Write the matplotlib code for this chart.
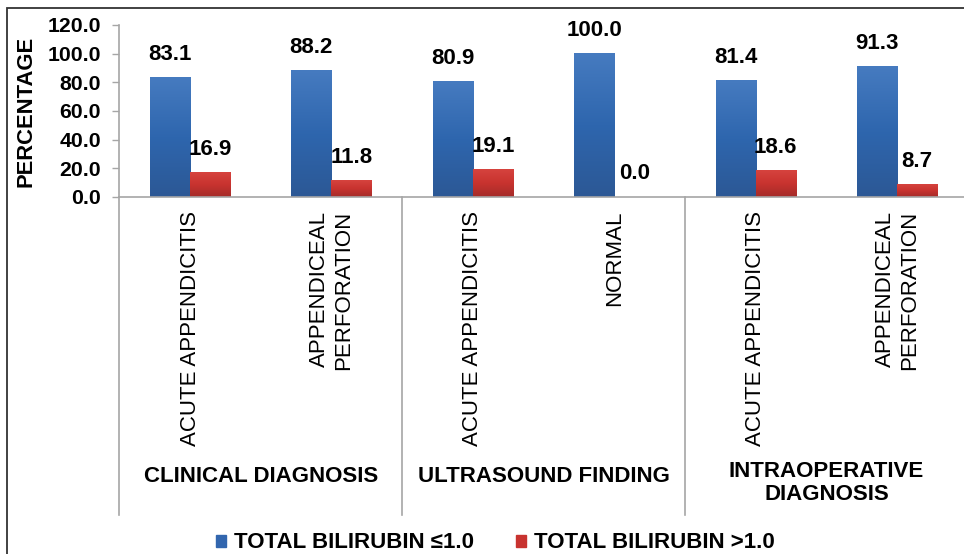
import numpy as np
import matplotlib
matplotlib.use('Agg')
import matplotlib.pyplot as plt
from matplotlib.patches import Patch, Rectangle
from matplotlib.lines import Line2D
from matplotlib.colors import LinearSegmentedColormap
from matplotlib.transforms import blended_transform_factory

plt.rcParams['font.family'] = ['Liberation Sans', 'DejaVu Sans']

categories = ['ACUTE APPENDICITIS', 'APPENDICEAL\nPERFORATION',
              'ACUTE APPENDICITIS', 'NORMAL',
              'ACUTE APPENDICITIS', 'APPENDICEAL\nPERFORATION']
groups = ['CLINICAL DIAGNOSIS', 'ULTRASOUND FINDING', 'INTRAOPERATIVE\nDIAGNOSIS']
low_bili = [83.1, 88.2, 80.9, 100.0, 81.4, 91.3]
high_bili = [16.9, 11.8, 19.1, 0.0, 18.6, 8.7]
series_names = ['TOTAL BILIRUBIN \u22641.0', 'TOTAL BILIRUBIN >1.0']

blue = '#3266AE'
red = '#C8332F'
grey = '#A6A6A6'
blue_cmap = LinearSegmentedColormap.from_list('b', ['#2C5895', '#2E66AE', '#467BC0'])
red_cmap = LinearSegmentedColormap.from_list('r', ['#A42C29', '#C8332F', '#D6433E'])

W, H = 964, 554
fig = plt.figure(figsize=(W / 100, H / 100), dpi=100)
ax = fig.add_axes([119.3 / W, 1 - 197 / H, 848.5 / W, 172 / H])

x = np.arange(len(categories))
bw = 0.283
b1 = ax.bar(x - bw / 2, low_bili, bw, color='none')
b2 = ax.bar(x + bw / 2, high_bili, bw, color='none')

grad = np.linspace(0, 1, 256).reshape(-1, 1)
for bars, cmap in [(b1, blue_cmap), (b2, red_cmap)]:
    for r in bars:
        if r.get_height() <= 0:
            continue
        x0, w, h = r.get_x(), r.get_width(), r.get_height()
        ax.imshow(grad, extent=[x0, x0 + w, 0, h], origin='lower',
                  cmap=cmap, aspect='auto', zorder=2)

for bars, vals in [(b1, low_bili), (b2, high_bili)]:
    for r, v in zip(bars, vals):
        ax.annotate(f'{v:.1f}', (r.get_x() + r.get_width() / 2, v),
                    xytext=(0, 9), textcoords='offset points',
                    ha='center', va='bottom', fontsize=16, fontweight='bold')

ax.set_xlim(-0.5, 5.5)
ax.set_ylim(0, 120)
ax.set_yticks(np.arange(0, 121, 20))
ax.set_yticklabels([f'{t:.1f}' for t in np.arange(0, 121, 20)],
                   fontsize=15.3, fontweight='bold')
ax.set_xticks(x)
ax.set_xticklabels(categories, rotation=90, fontsize=16, va='top',
                   ha='center', multialignment='right')
ax.tick_params(axis='x', length=0, pad=10)
ax.tick_params(axis='y', length=5, color=grey, width=1, pad=8)
for s in ['top', 'right']:
    ax.spines[s].set_visible(False)
for s in ['left', 'bottom']:
    ax.spines[s].set_color(grey)
    ax.spines[s].set_linewidth(1.2)
    ax.spines[s].set_zorder(3)

# group separators below the axis
tr = blended_transform_factory(ax.transData, fig.transFigure)
for xb in [-0.5, 1.5, 3.5]:
    fig.add_artist(Line2D([xb, xb], [1 - 197 / H, 1 - 515 / H], transform=tr,
                          color=grey, linewidth=1.2))

# group labels
group_y = [476, 476, 483]
for i, (g, gy) in enumerate(zip(groups, group_y)):
    fig.text(2 * i + 0.5, 1 - gy / H, g, transform=tr, ha='center', va='center',
             fontsize=16, fontweight='bold', linespacing=1.15)

fig.text(26 / W, 1 - 111 / H, 'PERCENTAGE', rotation=90, ha='center', va='center',
         fontsize=15.8, fontweight='bold')

handles = [Patch(color=blue), Patch(color=red)]
fig.legend(handles, series_names, loc='center', bbox_to_anchor=(495 / W, 1 - 543 / H),
           ncol=2, frameon=False, handlelength=0.45, handleheight=0.45,
           handletextpad=0.35, columnspacing=1.9,
           prop={'size': 16, 'weight': 'bold'})

# outer frame
fig.add_artist(Rectangle((7 / W, -0.1), 1.2, 1.1 - 8 / H, transform=fig.transFigure,
                         fill=False, edgecolor='#333333', linewidth=1.3))

fig.savefig('out.png', dpi=100)
